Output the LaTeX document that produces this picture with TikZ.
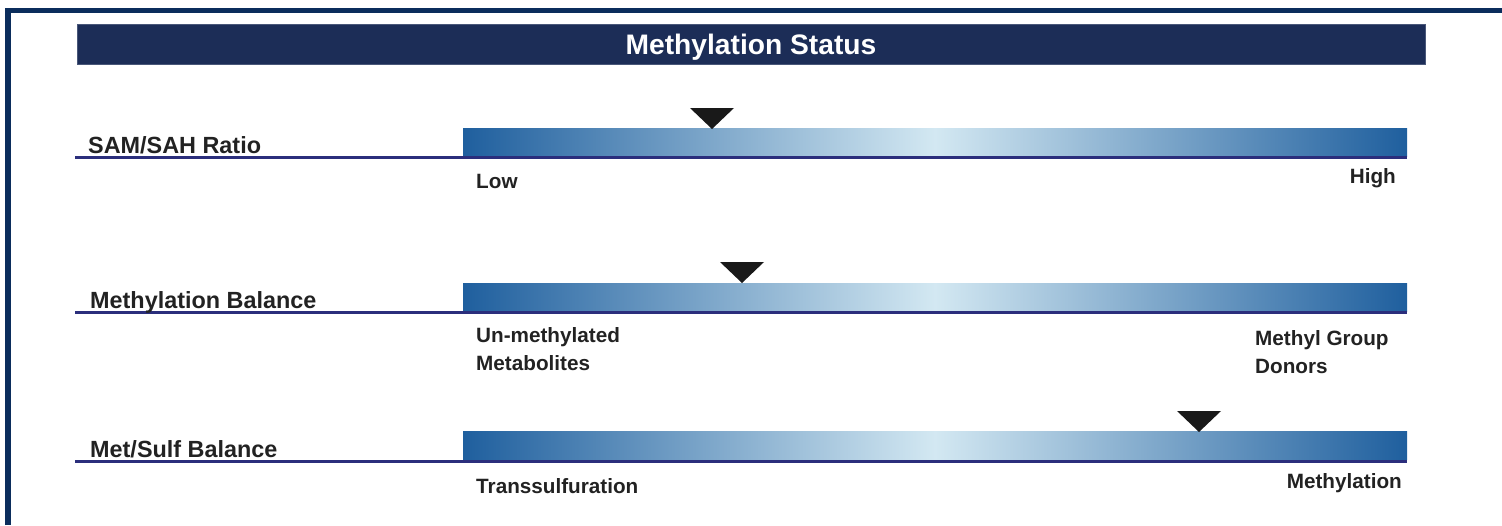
\documentclass[tikz,border=0pt]{standalone}
\usepackage{fontspec}
\setmainfont{Liberation Sans}
\usetikzlibrary{positioning}
\definecolor{framenavy}{HTML}{0B2D5C}
\definecolor{titlenavy}{HTML}{1C2D57}
\definecolor{linenavy}{HTML}{2B2E7C}
\definecolor{bardark}{HTML}{1F5F9E}
\definecolor{barlight}{HTML}{D3E8F2}
\definecolor{labelgrey}{HTML}{222222}
\tikzset{
  scalebar/.style={anchor=north west, inner sep=0, outer sep=0, minimum width=944, minimum height=28,
    left color=bardark, right color=bardark, middle color=barlight},
  underline/.style={draw=linenavy, line width=3pt},
  marker/.style={fill=black!90},
  rowlabel/.style={anchor=base west, inner sep=0, text=labelgrey, font=\fontsize{23.4}{27}\selectfont\bfseries},
  endlabel/.style={inner sep=0, text=labelgrey, align=left, font=\fontsize{20.7}{28}\selectfont\bfseries}
}
\begin{document}
\begin{tikzpicture}[x=1pt,y=-1pt]
\useasboundingbox (0,0) rectangle (1502,525);
\draw[framenavy, line width=5.5pt] (8,525) -- (8,10.5) -- (1502,10.5);
\node[fill=titlenavy, draw=titlenavy!80!white, line width=0.6pt, minimum width=1348, minimum height=40, inner sep=0,
  text height=20, text depth=0, text=white, font=\fontsize{28.2}{30}\selectfont\bfseries] (title) at (751,44) {Methylation Status};

\node[scalebar] (bar1) at (463,128) {};
\node[scalebar] (bar2) at (463,283) {};
\node[scalebar] (bar3) at (463,431.5) {};
\coordinate (ul1) at (75,157.5);
\coordinate (ul2) at (75,312.5);
\coordinate (ul3) at (75,461);
\draw[underline] (ul1) -- (ul1 -| bar1.east);
\draw[underline] (ul2) -- (ul2 -| bar2.east);
\draw[underline] (ul3) -- (ul3 -| bar3.east);

\coordinate (tip1) at (712,129);
\coordinate (tip2) at (742,283);
\coordinate (tip3) at (1199,432);
\fill[marker] (tip1) -- ++(-22,-21) -- ++(44,0) -- cycle;
\fill[marker] (tip2) -- ++(-22,-21) -- ++(44,0) -- cycle;
\fill[marker] (tip3) -- ++(-22,-21) -- ++(44,0) -- cycle;

\node[rowlabel] (lab1) at (88,153) {SAM/SAH Ratio};
\node[rowlabel] (lab2) at (90,308) {Methylation Balance};
\node[rowlabel] (lab3) at (90,457) {Met/Sulf Balance};

\node[endlabel, anchor=base west] (low) at (476,188) {Low};
\node[endlabel, anchor=base east] (high) at (1396,183) {High};
\node[endlabel, anchor=base west] (unmeth) at (476,370) {Un-methylated\\Metabolites};
\node[endlabel, anchor=base west] (donors) at (1255,373) {Methyl Group\\Donors};
\node[endlabel, anchor=base west] (transs) at (476,493) {Transsulfuration};
\node[endlabel, anchor=base east] (methyl) at (1402,488) {Methylation};
\end{tikzpicture}
\end{document}
